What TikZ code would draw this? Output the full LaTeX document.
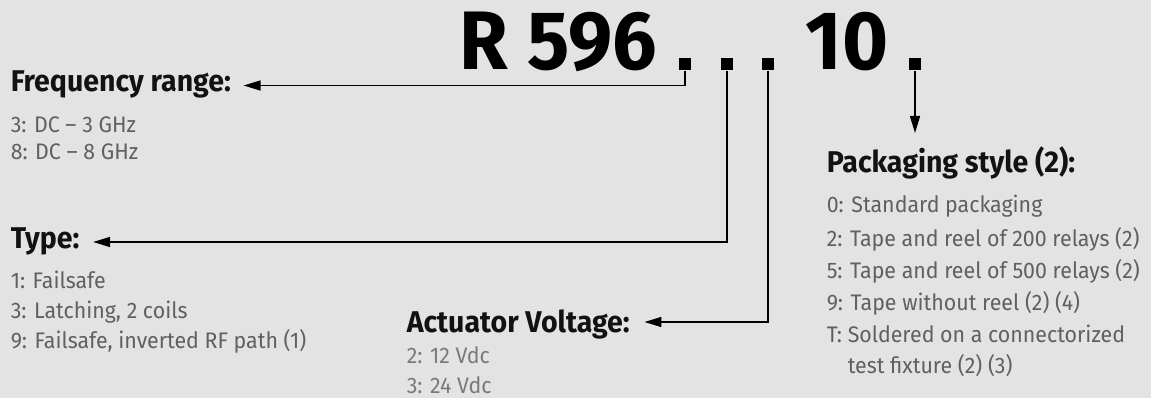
\documentclass[tikz,border=0pt]{standalone}
\usepackage{fontspec}
\setmainfont{Fira Sans}[FakeStretch=0.95]
\usetikzlibrary{arrows.meta}
\definecolor{bgcol}{HTML}{E2E3E2}
\definecolor{itemcol}{HTML}{606060}
\definecolor{itemlight}{HTML}{7A7A7A}
\begin{document}
\begin{tikzpicture}[
  x=1pt, y=-1pt, line width=1.5pt,
  every node/.style={inner sep=0pt, anchor=base west},
  title/.style={font=\fontsize{83}{83}\selectfont\bfseries},
  head/.style={font=\fontsize{30}{30}\selectfont\bfseries, text=black!93},
  item/.style={font=\fontsize{22.5}{22.5}\selectfont, text=itemcol},
  dot/.style={fill=black, minimum size=12pt, anchor=center},
  link/.style={-{Triangle[length=17pt,width=10pt]}},
]
\fill[bgcol] (0,0) rectangle (1151,398);
\useasboundingbox (0,0) rectangle (1151,398);
% part number
\node[title] (rnum) at (459,70) {R 596};
\node[title] (ten) at (805,70) {10};
\node[dot] (d1) at (685,64) {};
\node[dot] (d2) at (727,64) {};
\node[dot] (d3) at (768,64) {};
\node[dot] (d4) at (915,64) {};
% headings
\node[head] (freq) at (10,92) {Frequency range:};
\node[head] (type) at (10,248) {Type:};
\node[head] (volt) at (406,332) {Actuator Voltage:};
\node[head] (pack) at (826,173) {Packaging style (2):};
\coordinate (packtop) at (915,133);
% options
\node[item] (f3) at (10,133) {3: DC – 3 GHz};
\node[item] (f8) at (10,160) {8: DC – 8 GHz};
\node[item] (t1) at (10,288) {1: Failsafe};
\node[item] (t3) at (10,318) {3: Latching, 2 coils};
\node[item] (t9) at (10,348) {9: Failsafe, inverted RF path (1)};
\node[item, text=itemlight] (v2) at (406,363) {2: 12 Vdc};
\node[item, text=itemlight] (v3) at (406,393) {3: 24 Vdc};
\node[item] (p0) at (826,213) {0: Standard packaging};
\node[item] (p2) at (826,246) {2: Tape and reel of 200 relays (2)};
\node[item] (p5) at (826,278) {5: Tape and reel of 500 relays (2)};
\node[item] (p9) at (826,310) {9: Tape without reel (2) (4)};
\node[item] (pt) at (826,342) {T: Soldered on a connectorized};
\node[item] (ptb) at (847,373) {test fixture (2) (3)};
% connectors
\draw[link] (d1.south) |- ([xshift=12pt,yshift=6.5pt]freq.base east);
\draw[link] (d2.south) |- ([xshift=13pt,yshift=6pt]type.base east);
\draw[link] (d3.south) |- ([xshift=14pt,yshift=10pt]volt.base east);
\draw[link] (d4.south) -- (packtop);
\end{tikzpicture}
\end{document}
